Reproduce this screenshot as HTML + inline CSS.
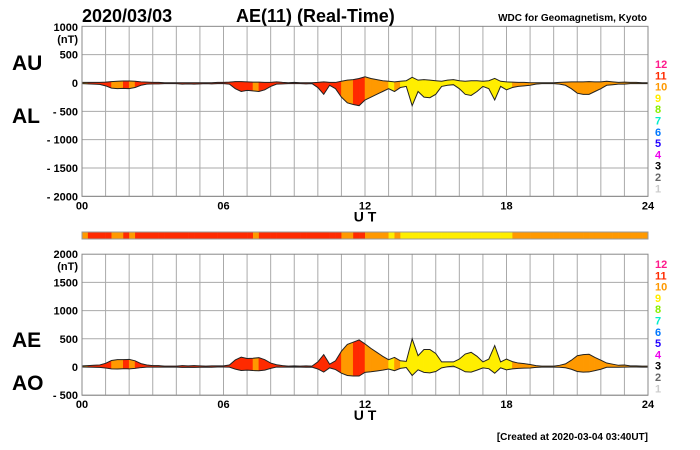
<!DOCTYPE html>
<html><head><meta charset="utf-8"><style>
body{margin:0;background:#fff;}
svg{display:block;font-family:"Liberation Sans",Arial,sans-serif;}
.b{font-weight:bold;}
</style></head><body>
<svg id="c" width="700" height="450" viewBox="0 0 700 450">
<text x="82" y="22" font-size="18" class="b">2020/03/03</text>
<text x="236" y="22" font-size="18" class="b">AE(11) (Real-Time)</text>
<text x="647" y="21" font-size="10" text-anchor="end" class="b">WDC for Geomagnetism, Kyoto</text>
<text x="12" y="70" font-size="21" class="b">AU</text>
<text x="12" y="123" font-size="21" class="b">AL</text>
<text x="12" y="347" font-size="21" class="b">AE</text>
<text x="12" y="390" font-size="21" class="b">AO</text>
<text x="78" y="31" font-size="11" class="b" text-anchor="end">1000</text>
<text x="78" y="43" font-size="11" class="b" text-anchor="end">(nT)</text>
<text x="78" y="258" font-size="11" class="b" text-anchor="end">2000</text>
<text x="78" y="270" font-size="11" class="b" text-anchor="end">(nT)</text>
<text x="648" y="440" font-size="10" text-anchor="end" class="b">[Created at 2020-03-04 03:40UT]</text>
<g id="g"></g>
</svg>
<script>
const hours=[0,6,12,18,24];
const hourLabels=["00","06","12","18","24"];
const topTicks=[500,0,-500,-1000,-1500,-2000];
const topTickLabels=["500","0","- 500","- 1000","- 1500","- 2000"];
const botTicks=[1500,1000,500,0,-500];
const botTickLabels=["1500","1000","500","0","- 500"];
const levelLabels=["12","11","10","9","8","7","6","5","4","3","2","1"];
const levelColors=["#ff1a8c","#ff2a00","#ff9900","#ffee00","#88ee00","#00eecc","#0077ff","#2200ff","#ee00ee","#000000","#666666","#cccccc"];
// AU, AL at 15-minute steps (nT)
const AU=[10,10,10,10,15,25,30,35,35,30,20,15,10,10,5,5,5,5,5,5,5,5,5,10,10,15,25,25,20,15,15,10,10,20,10,5,10,5,5,5,10,20,10,10,30,50,60,80,110,80,60,40,30,20,30,40,100,50,60,50,40,30,50,60,40,30,40,40,30,40,80,30,20,15,10,10,5,5,5,5,5,10,15,20,20,20,25,20,20,30,20,10,15,10,10,5,5];
const AL=[-10,-15,-20,-25,-50,-90,-100,-95,-100,-80,-40,-20,-15,-15,-10,-10,-10,-20,-15,-20,-15,-10,-15,-10,-10,-20,-100,-150,-130,-140,-150,-120,-60,-20,-15,-10,-10,-10,-15,-10,-80,-200,-40,-100,-250,-350,-380,-400,-300,-250,-200,-150,-100,-150,-80,-60,-400,-150,-250,-260,-200,-60,-40,-30,-100,-200,-220,-150,-60,-100,-300,-60,-120,-80,-60,-50,-40,-20,-10,-10,-10,-20,-40,-100,-180,-200,-200,-150,-100,-40,-30,-20,-20,-10,-10,-10,-10];
// activity level per 15-minute interval (index into 12..1)
const LEVEL=[10,11,11,11,11,10,10,11,10,11,11,11,11,11,11,11,11,11,11,11,11,11,11,11,11,11,11,11,11,10,11,11,11,11,11,11,11,11,11,11,11,11,11,11,10,10,11,11,10,10,10,10,9,10,9,9,9,9,9,9,9,9,9,9,9,9,9,9,9,9,9,9,9,10,10,10,10,10,10,10,10,10,10,10,10,10,10,10,10,10,10,10,10,10,10,10];
const g=document.getElementById('g');
const NS="http://www.w3.org/2000/svg";
const X0=82,X1=648;
const xs=h=>X0+(X1-X0)*h/24;
const yTop=v=>83-v*170/3000;
const yBot=v=>367-v*141/2500;
function mk(tag,attrs,parent){const e=document.createElementNS(NS,tag);for(const k in attrs)e.setAttribute(k,attrs[k]);(parent||g).appendChild(e);return e;}
const colorOf=l=>levelColors[12-l];
function panel(yf,ymax,ymin,ticks,tickLabels,hiArr,loArr,name,legY0){
  const pg=mk('g',{});
  
  
  for(let h=1;h<24;h++){const l=mk('line',{x1:xs(h),x2:xs(h),y1:yf(ymax),y2:yf(ymin),stroke:'#aaa','stroke-width':1},pg);}
  ticks.forEach((t,i)=>{const l=mk('line',{x1:X0,x2:X1,y1:yf(t),y2:yf(t),stroke:'#aaa','stroke-width':1},pg);
    const tx=mk('text',{x:78,y:yf(t)+4,'font-size':11,'font-weight':'bold','text-anchor':'end'},pg);tx.textContent=tickLabels[i];});
  const n=hiArr.length-1;
  for(let i=0;i<n;i++){
    const a=xs(i/4),b=xs((i+1)/4);
    const p=mk('polygon',{points:`${a},${yf(hiArr[i])} ${b},${yf(hiArr[i+1])} ${b},${yf(loArr[i+1])} ${a},${yf(loArr[i])}`,fill:colorOf(LEVEL[i]),stroke:colorOf(LEVEL[i]),'stroke-width':0.5},pg);
    
  }
  [hiArr,loArr].forEach((arr,k)=>{const pl=mk('polyline',{points:arr.map((v,i)=>xs(i/4)+','+yf(v)).join(' '),fill:'none',stroke:'#222','stroke-width':1},pg);});
  const r=mk('rect',{x:X0,y:yf(ymax),width:X1-X0,height:yf(ymin)-yf(ymax),fill:'none',stroke:'#888','stroke-width':1},pg);
  hours.forEach((h,i)=>{const t=mk('text',{x:xs(h),y:yf(ymin)+13,'font-size':11,'font-weight':'bold','text-anchor':'middle'},pg);t.textContent=hourLabels[i];});
  const ut=mk('text',{x:365,y:yf(ymin)+25,'font-size':14,'font-weight':'bold','text-anchor':'middle'},pg);ut.textContent='U T';
  levelLabels.forEach((s,i)=>{const t=mk('text',{x:655,y:legY0+i*11.3,'font-size':11,'font-weight':'bold',fill:levelColors[i]},pg);t.textContent=s;});
}
panel(yTop,1000,-2000,topTicks,topTickLabels,AU,AL,'au-al',68);
const AE=AU.map((u,i)=>u-AL[i]);
const AO=AU.map((u,i)=>(u+AL[i])/2);
panel(yBot,2000,-500,botTicks,botTickLabels,AE,AO,'ae-ao',268);
// color bar
LEVEL.forEach((l,i)=>{const r=mk('rect',{x:xs(i/4),y:232,width:(X1-X0)/96+0.3,height:7,fill:colorOf(l)});});
const fr=mk('rect',{x:X0,y:232,width:X1-X0,height:7,fill:'none',stroke:'#999','stroke-width':1});


</script>
</body></html>
